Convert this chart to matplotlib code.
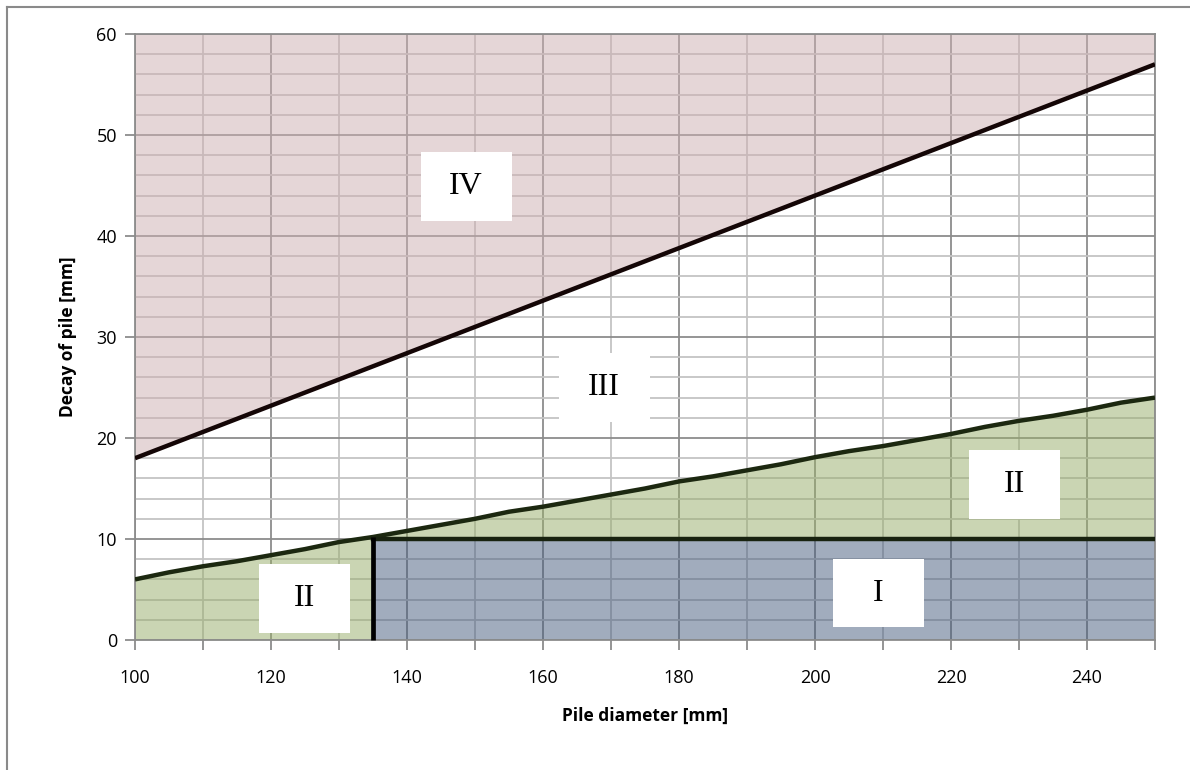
import numpy as np
import matplotlib.pyplot as plt
from matplotlib.lines import Line2D
from matplotlib.patches import Rectangle

# pile diameter [mm] and boundary lines
diameter = [100, 105, 110, 115, 120, 125, 130, 135, 140, 145, 150, 155, 160,
            165, 170, 175, 180, 185, 190, 195, 200, 205, 210, 215, 220, 225,
            230, 235, 240, 245, 250]
upper_line = [18.0, 19.3, 20.6, 21.9, 23.2, 24.5, 25.8, 27.1, 28.4, 29.7,
              31.0, 32.3, 33.6, 34.9, 36.2, 37.5, 38.8, 40.1, 41.4, 42.7,
              44.0, 45.3, 46.6, 47.9, 49.2, 50.5, 51.8, 53.1, 54.4, 55.7, 57.0]
lower_line = [6.0, 6.7, 7.3, 7.8, 8.4, 9.0, 9.7, 10.2, 10.8, 11.4, 12.0, 12.7,
              13.2, 13.8, 14.4, 15.0, 15.7, 16.2, 16.8, 17.4, 18.1, 18.7,
              19.2, 19.8, 20.4, 21.1, 21.7, 22.2, 22.8, 23.5, 24.0]
decay_limit = 10
split_diameter = 135

# zone labels and their positions
zone_names = ['IV', 'III', 'II', 'II', 'I']
zone_x = [148.7, 169.0, 124.9, 229.3, 209.3]
zone_y = [44.9, 25.0, 4.1, 15.4, 4.65]

x = np.array(diameter)
up = np.array(upper_line)
low = np.array(lower_line)

fig = plt.figure(figsize=(11.9, 7.7), dpi=100)
ax = fig.add_axes([135/1190, 130/770, 1020/1190, 606/770])
ax.set_xlim(100, 250)
ax.set_ylim(0, 60)

# grid: minor light, major darker
ax.set_xticks(np.arange(100, 251, 20))
ax.set_xticks(np.arange(100, 251, 10), minor=True)
ax.set_yticks(np.arange(0, 61, 10))
ax.set_yticks(np.arange(0, 61, 2), minor=True)
ax.grid(which='major', color='#8c8c8c', lw=1.3, zorder=0)
ax.grid(which='minor', color='#c4c4c4', lw=1.3, zorder=0)
ax.set_axisbelow(True)

# zones
ax.fill_between(x, up, 60, color='#CDAFB1', alpha=0.5, lw=0, zorder=1)
left = x <= split_diameter
right = x >= split_diameter
ax.fill_between(x[left], 0, low[left], color='#97AD69', alpha=0.5, lw=0, zorder=1)
ax.fill_between(x[right], decay_limit, low[right], color='#97AD69', alpha=0.5, lw=0, zorder=1)
ax.fill_between(x[right], 0, decay_limit, color='#455B7D', alpha=0.5, lw=0, zorder=1)

# boundary lines
ax.plot(x, up, color='#140606', lw=3.2, zorder=3, solid_capstyle='butt')
ax.plot(x, low, color='#1c2810', lw=3.2, zorder=3, solid_capstyle='butt')
ax.plot([split_diameter, 250], [decay_limit, decay_limit], color='#18220f', lw=3.2, zorder=3)
ax.plot([split_diameter, split_diameter], [0, low[x == split_diameter][0]],
        color='black', lw=3.4, zorder=3, clip_on=False, solid_capstyle='butt')

# zone labels in white boxes of equal size
box_w, box_h = 13.4, 6.8
for name, zx, zy in zip(zone_names, zone_x, zone_y):
    ax.add_patch(Rectangle((zx - box_w/2, zy - box_h/2), box_w, box_h,
                           facecolor='white', edgecolor='none', zorder=4))
    ax.text(zx, zy, name, ha='center', va='center', fontsize=23,
            family='Liberation Serif', zorder=5)

for s in ax.spines.values():
    s.set_color('#8c8c8c')
    s.set_linewidth(1.3)

ax.tick_params(which='both', direction='out', color='#8c8c8c', width=1.3)
ax.tick_params(which='major', length=7, labelsize=13, pad=14)
ax.tick_params(axis='y', which='major', pad=6)
ax.tick_params(axis='x', which='minor', length=7)
ax.tick_params(axis='y', which='minor', length=0)
for lab in ax.get_xticklabels() + ax.get_yticklabels():
    lab.set_family('Open Sans')

ax.set_xlabel('Pile diameter [mm]', fontsize=12.5, fontweight='bold', family='Open Sans', labelpad=14)
ax.set_ylabel('Decay of pile [mm]', fontsize=12.5, fontweight='bold', family='Open Sans', labelpad=14)

# outer chart border (top and left edges visible)
fig.add_artist(Line2D([7/1190, 1], [1-7/770, 1-7/770], color='#8a8a8a', lw=1.5))
fig.add_artist(Line2D([7/1190, 7/1190], [0, 1-7/770], color='#8a8a8a', lw=1.5))

fig.savefig('out.png', dpi=100)
